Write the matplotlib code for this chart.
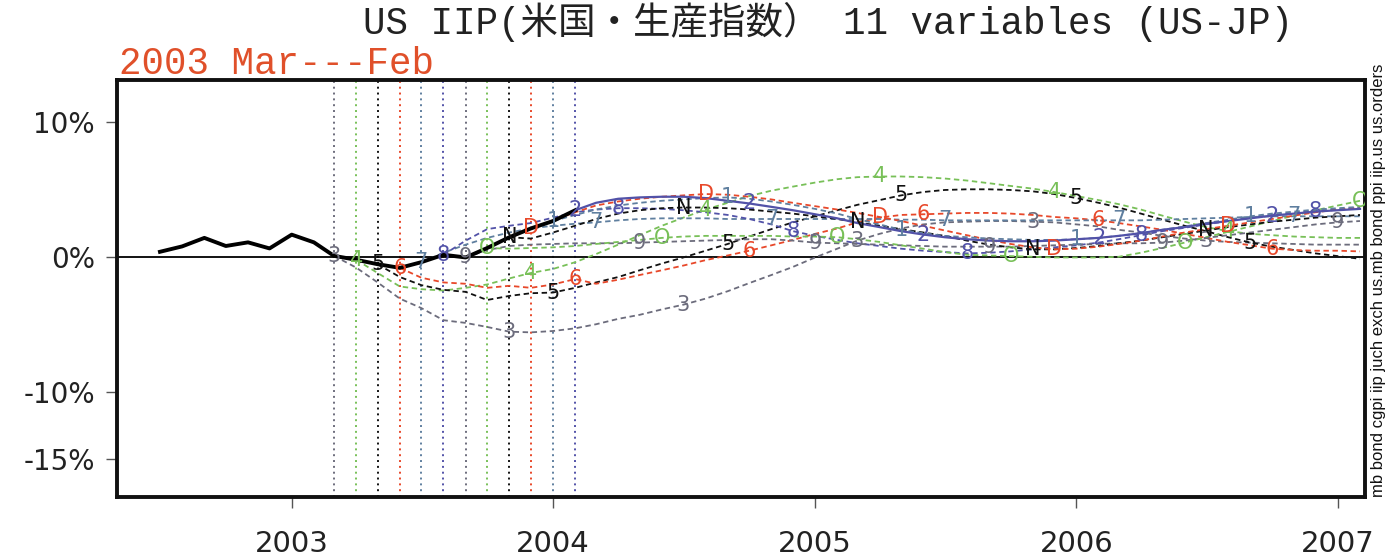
import numpy as np
import pandas as pd
import matplotlib
matplotlib.use("Agg")
import matplotlib.pyplot as plt
import matplotlib.dates as mdates

# actual US IIP deviation (%), monthly from Jul 2002
actual_start = "2002-07-01"
actual = [0.37, 0.77, 1.4, 0.8, 1.07, 0.62, 1.64, 1.07, 0.07, -0.22,
          -0.55, -0.82, -0.4, 0.15, -0.05, 0.65, 1.45, 2.1, 2.65, 3.45]

# forecast paths, one per starting month (Mar 2003 .. Feb 2004), through Feb 2007
fc_labels = ["3", "4", "5", "6", "7", "8", "9", "O", "N", "D", "1", "2"]
fc_starts = ["2003-03-01", "2003-04-01", "2003-05-01", "2003-06-01",
             "2003-07-01", "2003-08-01", "2003-09-01", "2003-10-01",
             "2003-11-01", "2003-12-01", "2004-01-01", "2004-02-01"]

fc_mar = [0.07, -0.8, -1.9, -3.1, -3.8, -4.7, -4.9, -5.2, -5.55, -5.6, -5.5, -5.3,
          -5.0, -4.6, -4.3, -3.9, -3.55, -3.1, -2.55, -1.95, -1.35, -0.75, -0.05, 0.6,
          1.2, 1.7, 2.1, 2.4, 2.55, 2.6, 2.65, 2.65, 2.6, 2.55, 2.4, 2.25,
          2.0, 1.8, 1.55, 1.35, 1.2, 1.1, 1.05, 1.0, 0.95, 0.9, 0.9, 0.9]
fc_apr = [-0.22, -1.2, -2.2, -2.4, -2.5, -2.3, -2.05, -1.6, -1.2, -0.9, -0.4, 0.2,
          0.9, 1.6, 2.3, 2.9, 3.5, 4.0, 4.5, 4.9, 5.2, 5.5, 5.75, 5.9,
          5.95, 5.95, 5.9, 5.8, 5.65, 5.45, 5.25, 5.05, 4.8, 4.5, 4.2, 3.9,
          3.5, 3.05, 2.6, 2.2, 1.9, 1.7, 1.6, 1.5, 1.45, 1.4, 1.4]
fc_may = [-0.55, -1.5, -2.1, -2.45, -2.6, -3.2, -2.9, -2.7, -2.65, -2.3, -1.9, -1.5,
          -1.0, -0.5, -0.05, 0.45, 0.95, 1.5, 2.05, 2.55, 3.0, 3.45, 3.85, 4.2,
          4.55, 4.8, 4.95, 5.0, 5.0, 4.95, 4.85, 4.65, 4.35, 4.0, 3.65, 3.2,
          2.75, 2.3, 1.9, 1.45, 1.05, 0.75, 0.5, 0.25, 0.05, -0.15]
fc_jun = [-0.82, -1.55, -1.9, -2.0, -2.3, -2.15, -2.3, -2.05, -1.65, -2.0, -1.7, -1.35,
          -1.0, -0.65, -0.25, 0.1, 0.45, 0.85, 1.25, 1.7, 2.1, 2.55, 2.9, 3.1,
          3.15, 3.2, 3.25, 3.25, 3.2, 3.1, 2.95, 2.85, 2.7, 2.5, 2.25, 2.0,
          1.7, 1.4, 1.1, 0.85, 0.6, 0.5, 0.45, 0.45, 0.4]
fc_jul = [-0.4, 0.3, 0.9, 1.4, 1.8, 2.1, 2.3, 2.45, 2.55, 2.7, 2.8, 2.85,
          2.85, 2.85, 2.8, 2.8, 2.8, 2.8, 2.8, 2.8, 2.8, 2.8, 2.75, 2.75,
          2.7, 2.7, 2.7, 2.7, 2.7, 2.7, 2.7, 2.7, 2.7, 2.7, 2.75, 2.8,
          2.85, 2.9, 2.95, 3.0, 3.0, 3.0, 3.0, 3.0]
fc_aug = [0.15, 1.2, 2.05, 2.3, 2.5, 2.9, 3.3, 3.5, 3.6, 3.6, 3.55, 3.45,
          3.3, 3.1, 2.8, 2.4, 1.9, 1.55, 1.25, 1.0, 0.8, 0.6, 0.45, 0.35,
          0.25, 0.3, 0.4, 0.55, 0.7, 0.85, 1.05, 1.3, 1.6, 1.9, 2.15, 2.4,
          2.65, 2.9, 3.1, 3.25, 3.4, 3.5, 3.6]
fc_sep = [-0.05, 0.5, 0.8, 0.9, 0.95, 1.0, 1.0, 1.0, 1.05, 1.1, 1.15, 1.2,
          1.25, 1.3, 1.3, 1.2, 1.05, 1.0, 0.95, 0.9, 0.85, 0.8, 0.75, 0.75,
          0.75, 0.75, 0.8, 0.85, 0.9, 0.95, 1.0, 1.0, 1.05, 1.2, 1.4, 1.6,
          1.8, 2.0, 2.2, 2.4, 2.55, 2.65]
fc_oct = [0.65, 0.6, 0.65, 0.7, 0.8, 0.95, 1.1, 1.25, 1.4, 1.5, 1.55, 1.55,
          1.55, 1.55, 1.5, 1.5, 1.45, 1.3, 1.1, 0.85, 0.6, 0.35, 0.15, 0.1,
          0.05, 0.0, -0.05, -0.05, -0.05, 0.0, 0.3, 0.65, 1.05, 1.45, 1.85, 2.25,
          2.65, 3.05, 3.45, 3.8, 4.15]
fc_nov = [1.45, 1.35, 1.8, 2.3, 2.8, 3.2, 3.45, 3.6, 3.65, 3.65, 3.6, 3.5,
          3.35, 3.2, 3.0, 2.8, 2.55, 2.3, 2.05, 1.8, 1.55, 1.2, 0.9, 0.7,
          0.55, 0.55, 0.65, 0.8, 1.0, 1.2, 1.45, 1.7, 1.95, 2.2, 2.4, 2.6,
          2.75, 2.9, 3.0, 3.1]
fc_dec = [2.1, 2.7, 3.3, 3.8, 4.1, 4.3, 4.45, 4.55, 4.65, 4.6, 4.45, 4.25,
          4.0, 3.75, 3.5, 3.25, 2.95, 2.65, 2.3, 1.95, 1.6, 1.25, 0.95, 0.7,
          0.55, 0.6, 0.75, 0.95, 1.2, 1.5, 1.8, 2.05, 2.3, 2.55, 2.8, 3.05,
          3.3, 3.5, 3.65]
fc_jan = [2.65, 3.1, 3.5, 3.8, 4.0, 4.15, 4.25, 4.35, 4.4, 4.3, 4.1, 3.85,
          3.55, 3.2, 2.8, 2.4, 2.0, 1.75, 1.55, 1.45, 1.35, 1.3, 1.25, 1.25,
          1.3, 1.4, 1.55, 1.75, 2.0, 2.25, 2.5, 2.75, 3.0, 3.2, 3.35, 3.5,
          3.6, 3.7]
fc_feb = [3.45, 4.0, 4.3, 4.4, 4.45, 4.45, 4.35, 4.15, 3.95, 3.7, 3.45, 3.15,
          2.85, 2.5, 2.2, 1.9, 1.65, 1.45, 1.3, 1.2, 1.15, 1.15, 1.2, 1.3,
          1.4, 1.55, 1.75, 2.0, 2.2, 2.45, 2.65, 2.85, 3.05, 3.2, 3.35, 3.45,
          3.55]
forecasts = [fc_mar, fc_apr, fc_may, fc_jun, fc_jul, fc_aug,
             fc_sep, fc_oct, fc_nov, fc_dec, fc_jan, fc_feb]

yticks = [10, 0, -10, -15]
ytick_labels = ["10%", "0%", "-10%", "-15%"]
year_ticks = ["2003", "2004", "2005", "2006", "2007"]

# six colours repeat over the twelve starting months
cycle = ["#6c6c7c", "#78c058", "#111111", "#e8482a", "#5f7f9f", "#5252a8"]

fig = plt.figure(figsize=(13.86, 5.58), dpi=100)
ax = fig.add_axes([117 / 1386, 1 - 497 / 558, (1365 - 117) / 1386, (497 - 80) / 558])

ax.axhline(0, color="black", lw=1.3, zorder=2)

for i, (lab, st, vals) in enumerate(zip(fc_labels, fc_starts, forecasts)):
    col = cycle[i % 6]
    d = pd.date_range(st, periods=len(vals), freq="MS")
    ax.axvline(d[0], color=col, lw=1.4, ls=(0, (1, 2)), zorder=1)
    if lab == "2":
        ax.plot(d, vals, color=col, lw=1.6, zorder=3)
    else:
        ax.plot(d, vals, color=col, lw=1.3, ls=(0, (3, 2)), zorder=3)
    for k in range(0, len(vals), 8):
        ax.text(d[k], vals[k], lab, color=col, fontsize=15, ha="center",
                va="center", zorder=5, clip_on=True)

act_dates = pd.date_range(actual_start, periods=len(actual), freq="MS")
ax.plot(act_dates, actual, color="black", lw=2.8, zorder=4)

ax.set_xlim(pd.Timestamp("2002-05-02"), pd.Timestamp("2007-02-08"))
ax.set_ylim(-17.8, 13.1)
ax.set_yticks(yticks)
ax.set_yticklabels(ytick_labels)
ax.set_xticks([pd.Timestamp(y + "-01-01") for y in year_ticks])
ax.set_xticklabels(year_ticks)
ax.tick_params(axis="both", direction="out", length=8, width=1, color="#555555",
               labelcolor="#222222")
ax.tick_params(axis="x", pad=16, labelsize=21)
ax.tick_params(axis="y", pad=8, labelsize=20)
for s in ax.spines.values():
    s.set_linewidth(2.8)
    s.set_color("#111111")

title_font = ["Liberation Mono", "Noto Sans CJK JP"]
fig.text(828 / 1386, 1 - 22 / 558, "US IIP(米国・生産指数） 11 variables (US-JP)",
         family=title_font, fontsize=27, ha="center", va="center", color="#222222")
fig.text(119 / 1386, 1 - 64 / 558, "2003 Mar---Feb", family=title_font,
         fontsize=27, ha="left", va="center", color="#e0502a")
fig.text(1378 / 1386, 1 - 280 / 558,
         "mb bond cgpi iip juch exch us.mb bond ppi iip.us us.orders",
         family="Liberation Sans", fontsize=12, rotation=90, ha="center",
         va="center", color="#111111")

fig.savefig("out.png", dpi=100, facecolor="white")
